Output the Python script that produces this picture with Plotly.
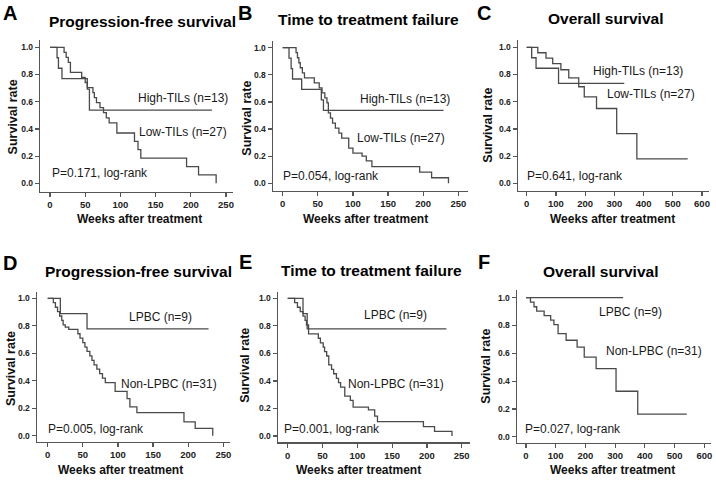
import plotly.graph_objects as go

# ---------------- data ----------------
A_high_weeks = [0, 10, 12, 17, 53, 56, 230]
A_high_surv = [1.0, 0.923, 0.846, 0.769, 0.692, 0.538, 0.538]
A_low_weeks = [0, 20, 23, 26, 29, 45, 50, 53, 61, 63, 66, 71, 76, 80, 84, 95, 120, 125, 129, 194, 211, 236]
A_low_surv = [1.0, 0.963, 0.926, 0.889, 0.815, 0.778, 0.741, 0.704, 0.667, 0.630, 0.593, 0.556, 0.519, 0.481, 0.444, 0.370, 0.309, 0.247, 0.185, 0.123, 0.062, 0.0]

B_high_weeks = [0, 9, 12, 14, 27, 55, 58, 229]
B_high_surv = [1.0, 0.923, 0.846, 0.769, 0.692, 0.615, 0.538, 0.538]
B_low_weeks = [0, 19, 21, 23, 25, 28, 31, 45, 52, 56, 60, 63, 65, 68, 71, 75, 80, 84, 94, 100, 113, 119, 127, 195, 212, 236]
B_low_surv = [1.0, 0.963, 0.926, 0.889, 0.852, 0.815, 0.778, 0.741, 0.704, 0.667, 0.630, 0.593, 0.519, 0.481, 0.444, 0.407, 0.370, 0.333, 0.259, 0.222, 0.200, 0.165, 0.123, 0.082, 0.041, 0.0]

C_high_weeks = [0, 17, 32, 109, 334]
C_high_surv = [1.0, 0.923, 0.846, 0.735, 0.735]
C_low_weeks = [0, 38, 66, 89, 117, 144, 178, 197, 239, 308, 377, 551]
C_low_surv = [1.0, 0.96, 0.92, 0.88, 0.835, 0.775, 0.71, 0.635, 0.55, 0.365, 0.18, 0.18]

D_lpbc_weeks = [0, 18, 56, 229]
D_lpbc_surv = [1.0, 0.889, 0.778, 0.778]
D_non_weeks = [0, 8, 11, 14, 17, 20, 22, 25, 30, 43, 46, 50, 53, 56, 60, 63, 66, 70, 74, 78, 82, 96, 113, 117, 127, 194, 210, 235]
D_non_surv = [1.0, 0.968, 0.935, 0.903, 0.871, 0.839, 0.806, 0.790, 0.774, 0.742, 0.710, 0.677, 0.645, 0.613, 0.581, 0.548, 0.516, 0.484, 0.452, 0.419, 0.387, 0.322, 0.270, 0.210, 0.168, 0.100, 0.054, 0.0]

E_lpbc_weeks = [0, 22, 28, 228]
E_lpbc_surv = [1.0, 0.889, 0.778, 0.778]
E_non_weeks = [0, 10, 14, 18, 22, 25, 27, 30, 44, 47, 51, 53, 56, 59, 63, 66, 70, 73, 76, 82, 90, 94, 116, 125, 129, 195, 211, 236]
E_non_surv = [1.0, 0.968, 0.935, 0.903, 0.871, 0.839, 0.806, 0.742, 0.710, 0.677, 0.645, 0.613, 0.581, 0.516, 0.484, 0.452, 0.419, 0.387, 0.355, 0.290, 0.258, 0.210, 0.190, 0.145, 0.104, 0.068, 0.034, 0.0]

F_lpbc_weeks = [0, 327]
F_lpbc_surv = [1.0, 1.0]
F_non_weeks = [0, 15, 27, 36, 61, 83, 94, 108, 135, 172, 196, 236, 303, 376, 541]
F_non_surv = [1.0, 0.968, 0.935, 0.903, 0.871, 0.839, 0.806, 0.742, 0.694, 0.645, 0.573, 0.490, 0.327, 0.163, 0.163]

panel_letters = ["A", "B", "C", "D", "E", "F"]
panel_titles = ["Progression-free survival", "Time to treatment failure", "Overall survival",
                "Progression-free survival", "Time to treatment failure", "Overall survival"]
group_labels = [["High-TILs (n=13)", "Low-TILs (n=27)"], ["High-TILs (n=13)", "Low-TILs (n=27)"],
                ["High-TILs (n=13)", "Low-TILs (n=27)"], ["LPBC (n=9)", "Non-LPBC (n=31)"],
                ["LPBC (n=9)", "Non-LPBC (n=31)"], ["LPBC (n=9)", "Non-LPBC (n=31)"]]
p_labels = ["P=0.171, log-rank", "P=0.054, log-rank", "P=0.641, log-rank",
            "P=0.005, log-rank", "P=0.001, log-rank", "P=0.027, log-rank"]
x_max_ticks = [250, 250, 600, 250, 250, 600]
x_tick_step = [50, 50, 100, 50, 50, 100]
y_ticks = [0.0, 0.2, 0.4, 0.6, 0.8, 1.0]
x_title = "Weeks after treatment"
y_title = "Survival rate"

curves = [
    [(A_high_weeks, A_high_surv), (A_low_weeks, A_low_surv)],
    [(B_high_weeks, B_high_surv), (B_low_weeks, B_low_surv)],
    [(C_high_weeks, C_high_surv), (C_low_weeks, C_low_surv)],
    [(D_lpbc_weeks, D_lpbc_surv), (D_non_weeks, D_non_surv)],
    [(E_lpbc_weeks, E_lpbc_surv), (E_non_weeks, E_non_surv)],
    [(F_lpbc_weeks, F_lpbc_surv), (F_non_weeks, F_non_surv)],
]

# ---------------- layout geometry (window pixels) ----------------
W, H = 716, 480
boxes = [(40, 40, 233, 191.7), (272.7, 40.7, 468, 190.7), (517.7, 40, 709, 190.7),
         (36.7, 291.7, 230, 441.7), (277.7, 291.7, 470, 442.3), (516.7, 290, 711, 442.7)]
xcal = [(50, 226), (282.7, 458.3), (526.7, 702), (47.7, 223.3), (287.7, 461.7), (526, 704.3)]
ycal = [(47.3, 183.3), (47.7, 183.3), (47.3, 183.3), (298.3, 435.7), (298.3, 436), (297.7, 436.7)]
letter_pos = [(10, 13), (245, 13), (484, 13), (10, 263), (245, 262), (484, 262)]
title_pos = [(142.5, 21.7), (368, 20), (605, 18.3), (138.8, 271.7), (372, 270), (600, 271.7)]
xt_pos = [(139.5, 219), (365.5, 219.3), (612.7, 219.3), (120.5, 469.5), (358.8, 469.5), (612.7, 469.5)]
yt_pos = [(12.7, 116.7), (246.7, 118), (487.7, 125), (11.7, 368.3), (245, 365.8), (486, 366.7)]
g1_pos = [(136, 97.7), (358.3, 99), (591, 71), (126.7, 317.3), (362.3, 315), (596.7, 311.7)]
g2_pos = [(137.3, 131.7), (355, 137.7), (605, 94.3), (119, 384.3), (345.7, 384.3), (604.3, 351)]
p_pos = [(50, 173.3), (281, 175.7), (525.3, 176), (45.7, 429.3), (281.7, 429.3), (522.7, 429)]

FONT = "Liberation Sans, Arial, sans-serif"
LINE = "#4a4a4a"
AX = "#555555"

fig = go.Figure()
annotations = []
layout = {}


def px(x):
    return x / W


def py(y):
    return 1 - y / H


def ann(text, pos, size, bold=False, xanchor="left", angle=0, color="#1a1a1a"):
    annotations.append(dict(text=text, x=px(pos[0]), y=py(pos[1]), xref="paper", yref="paper",
                            xanchor=xanchor, yanchor="middle", showarrow=False, textangle=angle,
                            font=dict(family=FONT, size=size, color=color,
                                      weight="bold" if bold else "normal")))


for i in range(6):
    n = "" if i == 0 else str(i + 1)
    L, T, R, B = boxes[i]
    x0p, x1p = xcal[i]
    xs = (x1p - x0p) / x_max_ticks[i]
    y1p, y0p = ycal[i]
    ys = (y0p - y1p)
    xr = [(L - x0p) / xs, (R - x0p) / xs]
    yr = [(y0p - B) / ys, (y0p - T) / ys]
    layout["xaxis" + n] = dict(domain=[px(L), min(px(R), 1)], range=xr, anchor="y" + n,
                               showline=True, linecolor=AX, linewidth=1.2, showgrid=False, zeroline=False,
                               ticks="outside", ticklen=4, tickcolor=AX, tickwidth=1.2,
                               tickvals=list(range(0, x_max_ticks[i] + 1, x_tick_step[i])),
                               tickfont=dict(family=FONT, size=9.5, color="#222", weight="bold"))
    layout["yaxis" + n] = dict(domain=[py(B), py(T)], range=yr, anchor="x" + n,
                               showline=True, linecolor=AX, linewidth=1.2, showgrid=False, zeroline=False,
                               ticks="outside", ticklen=4, tickcolor=AX, tickwidth=1.2,
                               tickvals=y_ticks, tickformat=".1f",
                               tickfont=dict(family=FONT, size=8.5, color="#222", weight="bold"))
    for (wk, sv) in curves[i]:
        fig.add_trace(go.Scatter(x=wk, y=sv, mode="lines", line=dict(color=LINE, width=1.3, shape="hv"),
                                 xaxis="x" + n, yaxis="y" + n, showlegend=False, hoverinfo="skip"))
    ann(panel_letters[i], letter_pos[i], 20, bold=True, xanchor="center", color="#000")
    ann(panel_titles[i], title_pos[i], 15.5, bold=True, xanchor="center", color="#000")
    ann(x_title, xt_pos[i], 12, bold=True, xanchor="center", color="#111")
    ann(y_title, yt_pos[i], 12.5, bold=True, xanchor="center", angle=-90, color="#111")
    ann(group_labels[i][0], g1_pos[i], 12)
    ann(group_labels[i][1], g2_pos[i], 12)
    ann(p_labels[i], p_pos[i], 12)

fig.update_layout(width=W, height=H, margin=dict(l=0, r=0, t=0, b=0),
                  paper_bgcolor="white", plot_bgcolor="white", annotations=annotations, **layout)
# remove the page's default 8px body margin so the figure fills the window exactly
fig.write_html("out.html", config={"displayModeBar": False, "staticPlot": True},
               post_script="document.body.style.margin='0';document.body.style.overflow='hidden';")
